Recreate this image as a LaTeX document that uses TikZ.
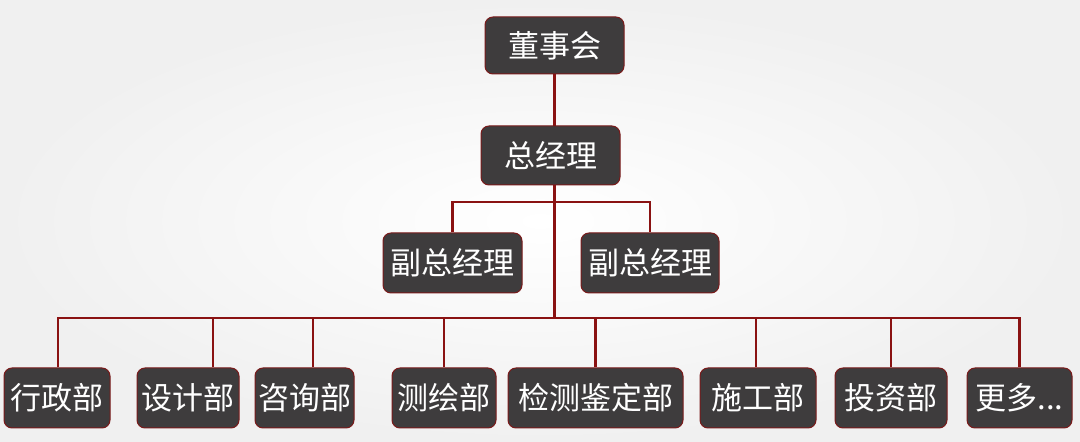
\documentclass[tikz,border=0pt]{standalone}
\usepackage{fontspec}
\newfontfamily\cjk{Noto Sans CJK SC}
\definecolor{linered}{HTML}{8A1212}
\definecolor{boxfill}{HTML}{3E3C3D}
\definecolor{boxedge}{HTML}{7A1A1A}
\definecolor{bgouter}{HTML}{F0F0F0}
\pgfdeclarelayer{bg}
\pgfdeclarelayer{lines}
\pgfsetlayers{bg,lines,main}
\begin{document}
\begin{tikzpicture}[x=1pt,y=1pt,
  orgbox/.style={draw=boxedge, line width=1pt, fill=boxfill, rounded corners=8pt,
    text=white, font=\cjk\fontsize{31}{31}\selectfont, inner sep=0pt, anchor=center},
  conn/.style={draw=linered, line width=2.2pt}]
\begin{pgfonlayer}{bg}
\shade[inner color=white, outer color=bgouter] (0,0) rectangle (1080,442);
\end{pgfonlayer}
\useasboundingbox (0,0) rectangle (1080,442);
% top levels
\node[orgbox, minimum width=139pt, minimum height=57pt] (dsh) at (554.5,396.5) {董事会};
\node[orgbox, minimum width=139pt, minimum height=59pt] (zjl) at (550.5,286.5) {总经理};
\node[orgbox, minimum width=139pt, minimum height=60pt] (f1) at (452.5,179) {副总经理};
\node[orgbox, minimum width=138pt, minimum height=60pt] (f2) at (650,179) {副总经理};
% bottom row
\node[orgbox, minimum width=106pt, minimum height=60pt] (b1) at (57,44) {行政部};
\node[orgbox, minimum width=102pt, minimum height=60pt] (b2) at (188,44) {设计部};
\node[orgbox, minimum width=99pt, minimum height=60pt] (b3) at (304.5,44) {咨询部};
\node[orgbox, minimum width=104pt, minimum height=60pt] (b4) at (444,44) {测绘部};
\node[orgbox, minimum width=175pt, minimum height=60pt] (b5) at (595.5,44) {检测鉴定部};
\node[orgbox, minimum width=116pt, minimum height=60pt] (b6) at (758,44) {施工部};
\node[orgbox, minimum width=112pt, minimum height=60pt] (b7) at (891,44) {投资部};
\node[orgbox, minimum width=105pt, minimum height=60pt] (b8) at (1019.5,44) {更多...};
\coordinate (mb) at (555,240);
\coordinate (bb) at (555,124);
\begin{pgfonlayer}{lines}
\draw[conn] (dsh.south) -- (dsh.south |- bb);
\draw[conn] (f1.north) |- (mb) -| (f2.north);
\draw[conn] ([xshift=1pt]b1.north) |- (bb) -| (b8.north);
\draw[conn] ([xshift=25pt]b2.north) -- ([xshift=25pt]b2.north |- bb);
\draw[conn] ([xshift=8.5pt]b3.north) -- ([xshift=8.5pt]b3.north |- bb);
\draw[conn] (b4.north) -- (b4.north |- bb);
\draw[conn] (b5.north) -- (b5.north |- bb);
\draw[conn] ([xshift=-2pt]b6.north) -- ([xshift=-2pt]b6.north |- bb);
\draw[conn] (b7.north) -- (b7.north |- bb);
\end{pgfonlayer}
\end{tikzpicture}
\end{document}
